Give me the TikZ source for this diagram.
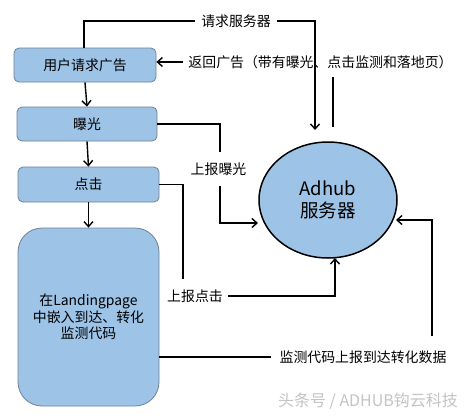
\documentclass[tikz,border=0pt]{standalone}
\usepackage{fontspec}
\setmainfont{Noto Sans CJK SC}
\usetikzlibrary{arrows.meta,shapes.geometric}
\definecolor{boxfill}{HTML}{9DC3E6}
\definecolor{boxline}{HTML}{6F8296}
\definecolor{wm}{HTML}{C4C4C4}
\tikzset{
  flowbox/.style={draw=boxline, line width=0.8pt, fill=boxfill, rounded corners=5pt, inner sep=0pt},
  lbl/.style={inner sep=0pt, font=\fontsize{13.9}{17}\selectfont, text=black},
  conn/.style={line width=1.4pt, black},
  arr/.style={conn, -{Straight Barb[length=5pt,width=9pt,line width=1.4pt]}},
}
\begin{document}
\begin{tikzpicture}[x=1pt,y=-1pt]
\useasboundingbox (0,0) rectangle (466,418);
\fill[white] (0,0) rectangle (466,418);

% boxes
\node[flowbox, minimum width=142pt, minimum height=34pt, lbl] (b1) at (85,65) {用户请求广告};
\node[flowbox, minimum width=140pt, minimum height=34pt, lbl] (b2) at (87,124) {曝光};
\node[flowbox, minimum width=141pt, minimum height=35pt, lbl] (b3) at (88.5,184.5) {点击};
\node[flowbox, minimum width=141pt, minimum height=178pt, rounded corners=24pt] (b4) at (88.5,317) {};
\node[lbl, align=center, font=\fontsize{13.9}{16.5}\selectfont] (b4t) at (88.5,317) {在Landingpage\\中嵌入到达、转化\\监测代码};

% server
\node[ellipse, draw=black, line width=1.5pt, fill=boxfill, minimum width=138pt, minimum height=116pt, inner sep=0pt,
      align=center, font=\fontsize{18.5}{22}\selectfont] (srv) at (328,200) {Adhub\\服务器};

% labels
\node[lbl, inner xsep=6pt, inner ysep=5pt] (t1) at (236,21) {请求服务器};
\node[lbl, inner xsep=5pt, inner ysep=8pt] (t2) at (320.5,62) {返回广告（带有曝光、点击监测和落地页）};
\node[lbl, inner ysep=10pt] (t3) at (218.5,169) {上报曝光};
\node[lbl, inner xsep=5pt, inner ysep=10pt] (t4) at (195,296) {上报点击};
\node[lbl, inner xsep=8pt, inner ysep=14pt] (t5) at (363,357) {监测代码上报到达转化数据};
\node[inner sep=0pt, text=wm, font=\fontsize{16}{18}\selectfont] (wmk) at (368,401) {头条号 / ADHUB钩云科技};

% coordinates for connector ends near the server
\coordinate (c1) at (315,130);
\coordinate (c2) at (333,127);
\coordinate (c3) at (258,223);
\coordinate (c4) at (335,258);
\coordinate (c5) at (396,220);

% vertical flow
\draw[arr] (b1.south) -- (b2.north);
\draw[arr] (b2.south) -- (b3.north);
\draw[arr] (b3.south) -- (b4.north);

% request
\draw[conn] (b1.north -| 84,0) |- (t1.west);
\draw[arr] (t1.east) -| (c1);

% return
\draw[conn] (c2) -- (c2 |- t2.south);
\draw[arr] (t2.west) -- (t2.west -| b1.east);

% exposure report
\draw[conn] (b2.east) -| (t3.north -| 220,0);
\draw[arr] (t3.south -| 220,0) |- (c3);

% click report
\draw[conn] (b3.east) -| (t4.north -| 183,0);
\draw[arr] (t4.east) -| (c4);

% conversion report
\draw[conn] (b4.east |- t5.west) -- (t5.west);
\draw[arr] (t5.north -| 432,0) |- (c5);
\end{tikzpicture}
\end{document}
